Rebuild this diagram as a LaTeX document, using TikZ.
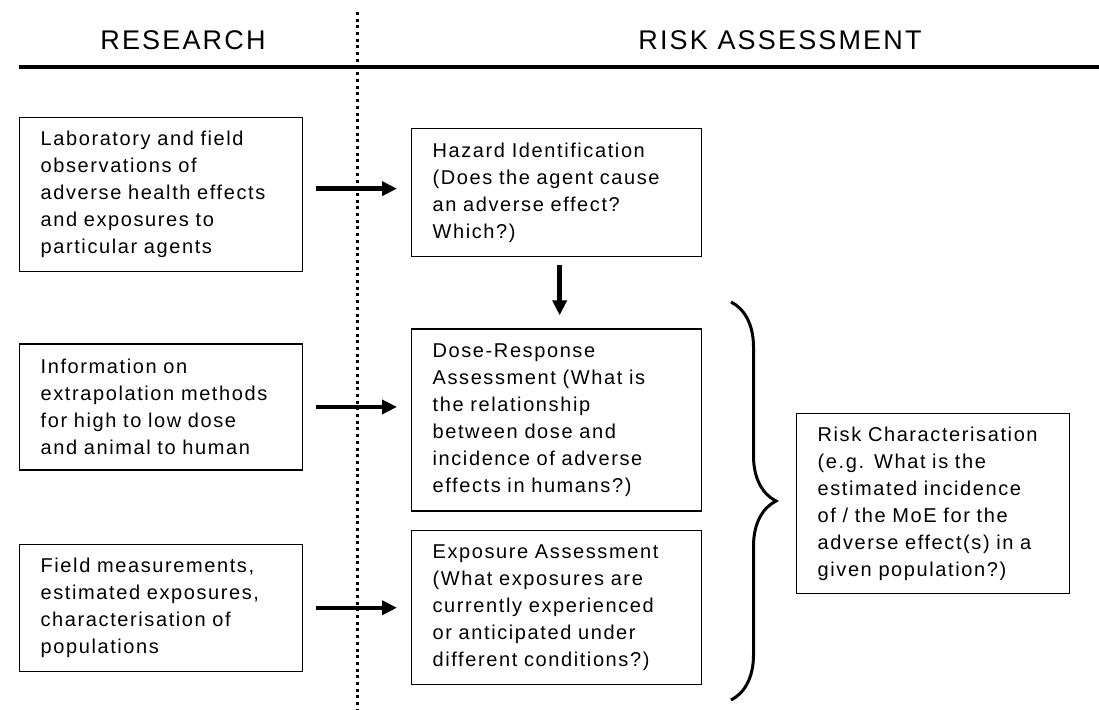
\documentclass[tikz,border=0pt]{standalone}
\usepackage{fontspec}
\setmainfont{Liberation Sans}[LetterSpace=8]
\usetikzlibrary{positioning,arrows.meta,decorations.pathreplacing}

\tikzset{
  box/.style={draw,line width=1.3pt,align=left,inner xsep=21pt,inner ysep=0pt,
    font=\fontsize{20}{27}\selectfont},
  arr/.style={line width=4.5pt,-{Triangle[length=15pt,width=14pt]}},
  head/.style={font=\fontsize{27}{30}\selectfont}
}

\begin{document}
\begin{tikzpicture}[x=1pt,y=-1pt]
\useasboundingbox (0,0) rectangle (1099,709);
% header
\node[head] (res) at (183,40) {RESEARCH};
\node[head] (ra) at (780,40) {RISK ASSESSMENT};
\draw[line width=3.3pt] (19,67) -- (1099,67);
\draw[line width=3pt,dash pattern=on 3pt off 3.7pt] (357,12) -- (357,709);

% research column
\node[box,anchor=north west,text width=241pt,minimum height=154pt] (lab) at (19,117)
  {Laboratory and field\\ observations of\\ adverse health effects\\ and exposures to\\ particular agents};
\node[box,text width=241pt,minimum height=126pt,below=71pt of lab] (info)
  {Information on\\ extrapolation methods\\ for high to low dose\\ and animal to human};
\node[box,text width=241pt,minimum height=127pt,below=73pt of info] (field)
  {Field measurements,\\ estimated exposures,\\ characterisation of\\ populations};

% risk assessment column
\node[box,anchor=north west,text width=248pt,minimum height=128pt] (hazard) at (411,128)
  {Hazard Identification\\ (Does the agent cause\\ an adverse effect?\\ Which?)};
\node[box,text width=248pt,minimum height=182pt,below=71pt of hazard] (dose)
  {Dose-Response\\ Assessment (What is\\ the relationship\\ between dose and\\ incidence of adverse\\ effects in humans?)};
\node[box,text width=248pt,minimum height=154pt,below=18pt of dose] (expo)
  {Exposure Assessment\\ (What exposures are\\ currently experienced\\ or anticipated under\\ different conditions?)};
\node[box,anchor=north west,text width=231pt,minimum height=180pt] (risk) at (796,413)
  {Risk Characterisation\\ (e.g. What is the\\ estimated incidence\\ of / the MoE for the\\ adverse effect(s) in a\\ given population?)};

% arrows
\draw[arr,shorten <=13pt,shorten >=14pt] ([yshift=4pt]lab.east |- hazard.west) -- ([yshift=4pt]hazard.west);
\draw[arr,shorten <=13pt,shorten >=14pt] (info.east) -- (info.east -| dose.west);
\draw[arr,shorten <=13pt,shorten >=14pt] (field.east) -- (field.east -| expo.west);
\draw[arr,shorten <=8pt,shorten >=13pt] ([xshift=3pt]hazard.south) -- ([xshift=3pt]dose.north);

% brace
\coordinate (bt) at (731,302);
\coordinate (bb) at (731,700);
\draw[line width=3pt,decorate,decoration={brace,amplitude=45pt,aspect=0.5}] (bt) -- (bb);
\end{tikzpicture}
\end{document}
